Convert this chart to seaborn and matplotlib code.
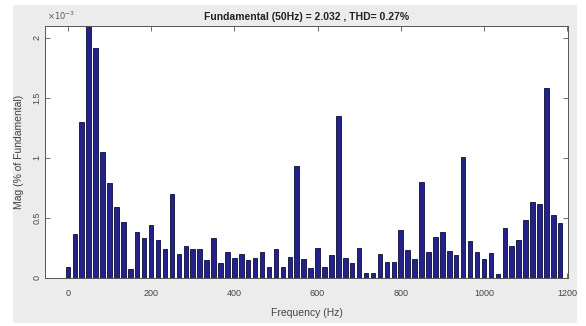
import numpy as np
import pandas as pd
import matplotlib
matplotlib.use("Agg")
import matplotlib.pyplot as plt
import seaborn as sns
from matplotlib.patches import Rectangle

# FFT bin resolution: 3 cycles of a 50 Hz signal -> 16.67 Hz per bin
f_res = 50.0 / 3.0

# Harmonic magnitude per FFT bin (x1e-3, % of fundamental); the 50 Hz bin runs off the top
mag = [0.09, 0.37, 1.30, 2.10, 1.92, 1.05, 0.79, 0.59, 0.47, 0.075,
       0.38, 0.33, 0.44, 0.32, 0.245, 0.70, 0.20, 0.27, 0.245, 0.245,
       0.15, 0.33, 0.125, 0.215, 0.165, 0.20, 0.15, 0.165, 0.22, 0.095,
       0.24, 0.095, 0.175, 0.93, 0.16, 0.085, 0.25, 0.09, 0.19, 1.35,
       0.17, 0.125, 0.25, 0.04, 0.04, 0.20, 0.135, 0.13, 0.40, 0.235,
       0.16, 0.80, 0.22, 0.345, 0.385, 0.225, 0.19, 1.005, 0.31, 0.215,
       0.155, 0.205, 0.035, 0.42, 0.265, 0.315, 0.48, 0.635, 0.62, 1.58,
       0.525, 0.455]

freq = np.arange(len(mag)) * f_res

x_ticks = [0, 200, 400, 600, 800, 1000, 1200]
y_ticks = [0, 0.5, 1, 1.5, 2]
y_tick_labels = ["0", "0.5", "1", "1.5", "2"]

title = "Fundamental (50Hz) = 2.032 , THD= 0.27%"
x_label = "Frequency (Hz)"
y_label = "Mag (% of Fundamental)"

df = pd.DataFrame({"freq": freq, "mag": mag})

sns.set_style("ticks")
plt.rcParams["font.family"] = ["Liberation Sans", "DejaVu Sans"]

W, H = 586, 326
fig = plt.figure(figsize=(W / 100, H / 100), dpi=100, facecolor="white")

# grey figure panel behind the axes
panel = Rectangle((13 / W, 1 - 323 / H), (577 - 13) / W, (323 - 5) / H,
                  transform=fig.transFigure, facecolor="#ececec",
                  edgecolor="none", zorder=-10)
fig.add_artist(panel)

ax = fig.add_axes([45 / W, 1 - 278 / H, (568 - 45) / W, (278 - 26) / H])
ax.set_zorder(1)
ax.set_facecolor("white")

sns.barplot(data=df, x="freq", y="mag", native_scale=True, orient="x",
            width=0.65, color="#22228a", saturation=1, errorbar=None,
            edgecolor="#0c0c3a", linewidth=0.6, ax=ax)

ax.set_xlim(-55, 1202)
ax.set_ylim(0, 2.1)
ax.set_xticks(x_ticks)
ax.set_xticklabels([str(t) for t in x_ticks])
ax.set_yticks(y_ticks)
ax.set_yticklabels(y_tick_labels, rotation=90, va="center")

ax.tick_params(direction="in", top=True, right=True, length=3.5, width=0.6,
               colors="#555555", labelsize=6.5, labelcolor="#444444")
ax.tick_params(axis="x", pad=8)
ax.tick_params(axis="y", pad=2.5)
for s in ax.spines.values():
    s.set_color("#555555")
    s.set_linewidth(0.7)

ax.set_xlabel(x_label, fontsize=7.5, color="#444444", labelpad=7)
ax.set_ylabel(y_label, fontsize=7.5, color="#444444", labelpad=6)
ax.set_title(title, fontsize=7.5, color="#222222", fontweight="bold", pad=4)

# axis exponent label
fig.text(47 / W, 1 - 16 / H, r"$\times10^{-3}$", fontsize=6, color="#555555",
         va="center", ha="left", zorder=2)

fig.savefig("out.png", dpi=100, facecolor=fig.get_facecolor())
